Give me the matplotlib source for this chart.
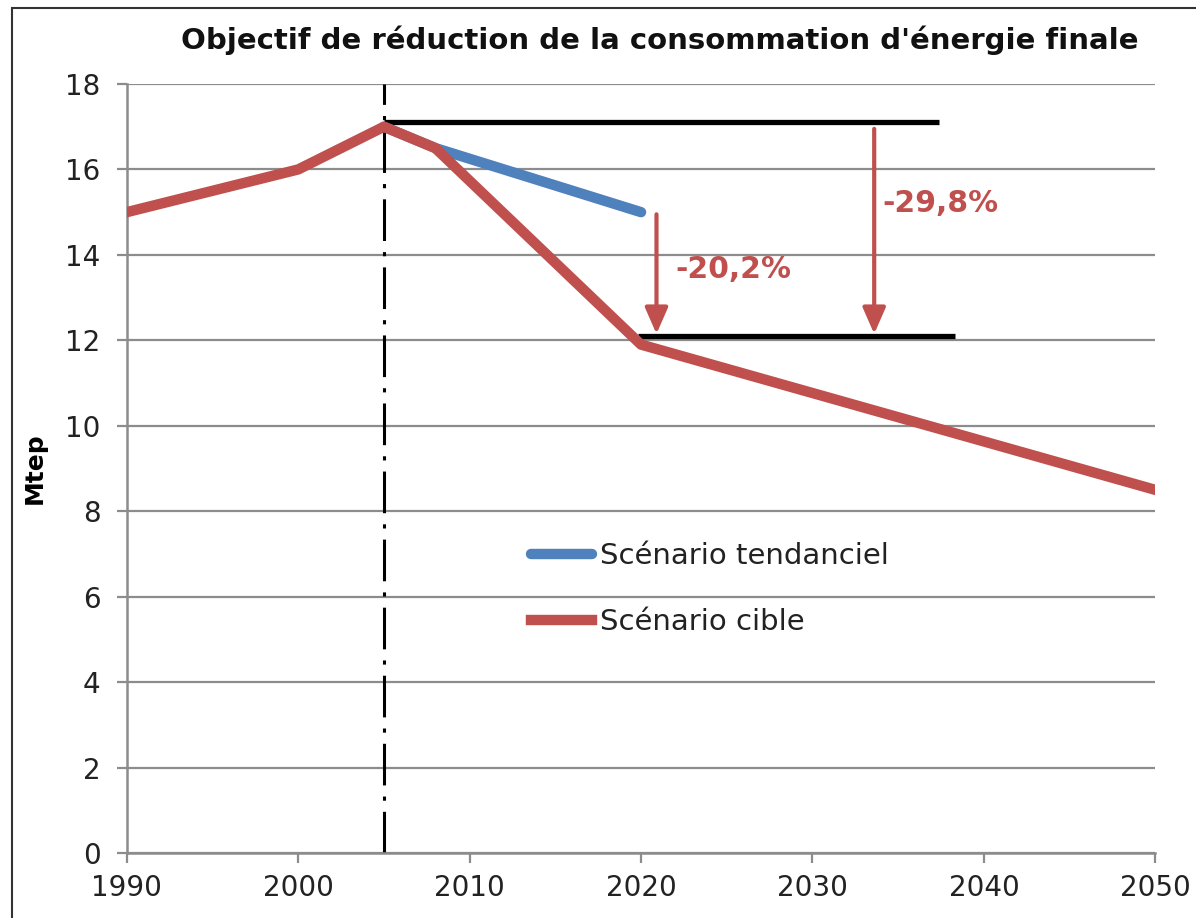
import matplotlib.pyplot as plt
from matplotlib.patches import Rectangle

plt.rcParams['font.family'] = ['DejaVu Sans']
plt.rcParams['lines.scale_dashes'] = False

# donnees
years_cible = [1990, 2000, 2005, 2008, 2020, 2050]
cible = [15.0, 16.0, 17.0, 16.5, 11.9, 8.5]
years_tend = [2005, 2008, 2020]
tend = [17.0, 16.5, 15.0]

ref_2005 = 17.1
ref_2020 = 12.1
lbl_20 = "-20,2%"
lbl_29 = "-29,8%"

red = '#C0504D'
blue = '#4F81BD'
grey = '#8c8c8c'

fig = plt.figure(figsize=(11.96, 9.18), dpi=100)
ax = fig.add_axes([0.106, 0.0708, 0.86, 0.8377])

ax.set_xlim(1990, 2050)
ax.set_ylim(0, 18)
ax.set_xticks(range(1990, 2051, 10))
ax.set_yticks(range(0, 19, 2))
ax.yaxis.grid(True, color=grey, lw=1.6)
ax.set_axisbelow(True)
for s in ['top', 'right']:
    ax.spines[s].set_visible(False)
for s in ['left', 'bottom']:
    ax.spines[s].set_color(grey)
    ax.spines[s].set_linewidth(1.8)
ax.tick_params(axis='both', direction='out', length=7, width=1.6, color=grey,
               labelsize=20, labelcolor='#222222')
ax.tick_params(axis='x', pad=8)
ax.tick_params(axis='y', pad=12)

# ligne verticale 2005
ax.axvline(2005, color='black', lw=2.2, dashes=(30, 8, 3, 8), zorder=2)

# reperes horizontaux
ax.plot([2005, 2037.4], [ref_2005, ref_2005], color='black', lw=3.8, zorder=3,
        solid_capstyle='butt')
ax.plot([2019.8, 2038.3], [ref_2020, ref_2020], color='black', lw=3.8, zorder=3,
        solid_capstyle='butt')

l1, = ax.plot(years_tend, tend, color=blue, lw=7.5, solid_capstyle='round',
              zorder=4, label='Scénario tendanciel')
l2, = ax.plot(years_cible, cible, color=red, lw=7.5, zorder=5,
              label='Scénario cible')

arrow = dict(arrowstyle='-|>,head_width=0.35,head_length=0.8', color=red,
             lw=3, mutation_scale=20, shrinkA=0, shrinkB=0)
ax.annotate('', xy=(2020.9, ref_2020 + 0.05), xytext=(2020.9, 14.95),
            arrowprops=arrow, zorder=6)
ax.annotate('', xy=(2033.6, ref_2020 + 0.05), xytext=(2033.6, 16.95),
            arrowprops=arrow, zorder=6)
ax.text(2022.0, 13.65, lbl_20, color=red, fontsize=21.5, fontweight='bold',
        va='center', ha='left')
ax.text(2034.1, 15.2, lbl_29, color=red, fontsize=21.5, fontweight='bold',
        va='center', ha='left')

leg = ax.legend(handles=[l1, l2], loc='upper left', bbox_to_anchor=(0.393, 0.404),
                frameon=False, fontsize=21, handlelength=2.1, handletextpad=0.25,
                labelspacing=1.3, borderaxespad=0, borderpad=0)
for t in leg.get_texts():
    t.set_color('#222222')

ax.set_ylabel('Mtep', fontsize=18, fontweight='bold')
ax.yaxis.set_label_coords(-0.078, 0.5)

fig.text(0.552, 0.956, "Objectif de réduction de la consommation d'énergie finale",
         ha='center', va='center', fontsize=21, fontweight='bold', color='#111111')

# cadre
fig.add_artist(Rectangle((12 / 1196, -0.1), 1.2, 0.1 + (918 - 8) / 918,
                         transform=fig.transFigure, fill=False, ec='#333333', lw=1.5))

fig.savefig('out.png', dpi=100)
